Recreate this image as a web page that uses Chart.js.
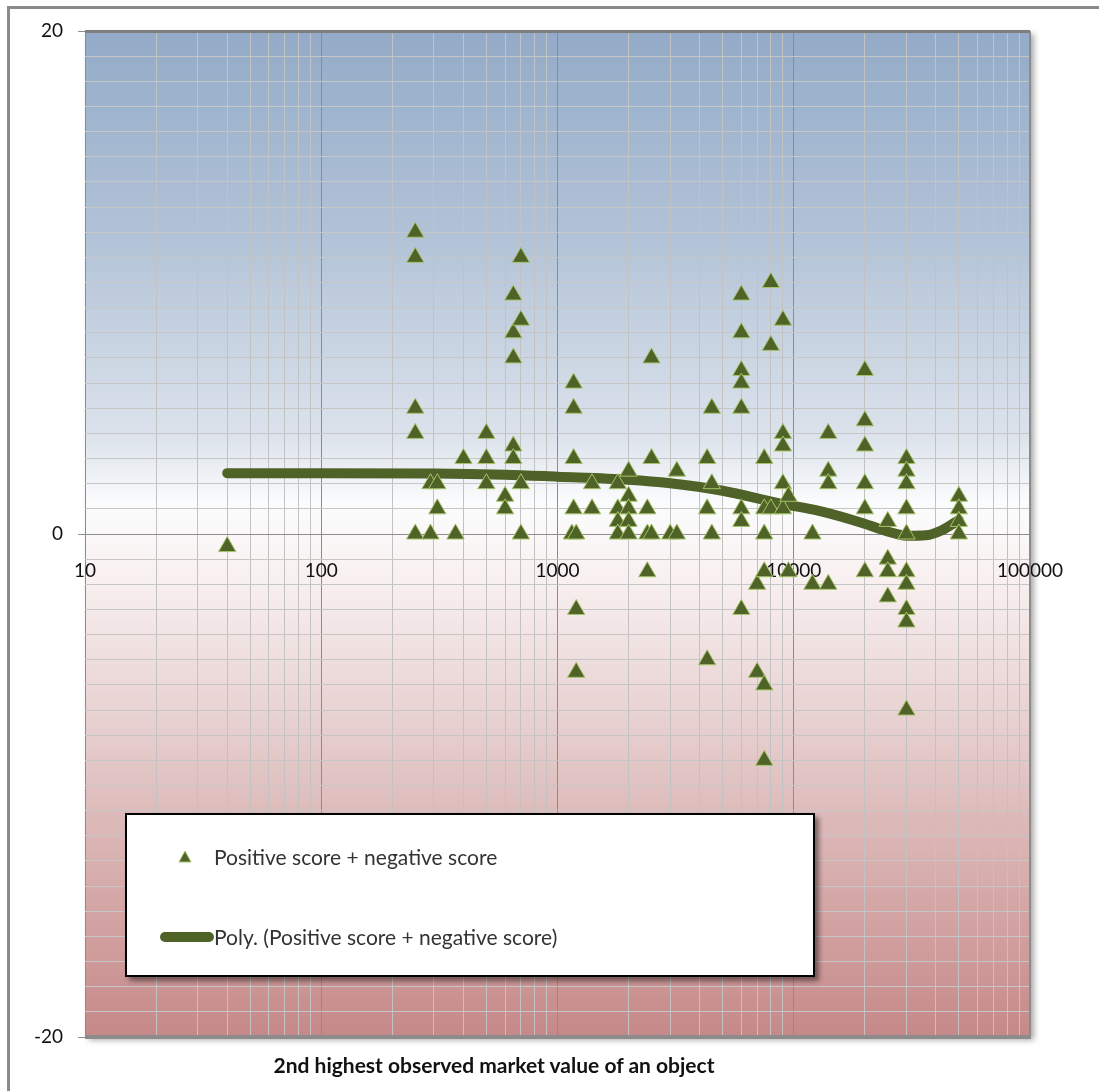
<!DOCTYPE html>
<html>
<head>
<meta charset="utf-8">
<title>Positive score + negative score</title>
<script src="https://cdn.jsdelivr.net/npm/chart.js@4/dist/chart.umd.min.js"></script>
<style>
    html, body { margin: 0; padding: 0; background: #fff; overflow: hidden; }
    #frame {
        position: absolute; left: 7px; top: 6px; width: 1200px; height: 1200px;
        border-left: 3px solid #8a8a8a; border-top: 3px solid #8a8a8a;
    }
    #wrap { position: absolute; left: 0; top: 0; width: 1099px; height: 1091px; }
    #legend {
        position: absolute; left: 125px; top: 813px; width: 686px; height: 160px;
        border: 2px solid #000; background: #fff;
        box-shadow: 4px 4px 5px rgba(0, 0, 0, 0.45);
        font-family: Lato, "Open Sans", sans-serif; font-size: 21px; color: #333;
    }
    .legend-row { position: absolute; left: 0; height: 30px; line-height: 30px; }
    .legend-text { position: absolute; left: 87px; white-space: nowrap; }
    #icon-tri { position: absolute; left: 51px; top: 8px; }
    #icon-line {
        position: absolute; left: 33px; top: 10px; width: 54px; height: 10px;
        border-radius: 5px; background: #4f6228;
    }
    #xtitle {
        position: absolute; left: 258px; top: 1052px; width: 472px; text-align: center;
        font-family: Lato, "Open Sans", sans-serif; font-weight: bold; font-size: 21px; color: #111;
        white-space: nowrap;
    }
</style>
</head>
<body>
<div id="frame"></div>
<div id="wrap"><canvas id="scoreChart"></canvas></div>
<div id="legend">
    <div class="legend-row" style="top: 27px; width: 600px;">
        <svg id="icon-tri" width="14" height="13"><polygon points="7,1 13,12 1,12" fill="#4f6228" stroke="#a6c46a" stroke-width="1"/></svg>
        <span class="legend-text">Positive score + negative score</span>
    </div>
    <div class="legend-row" style="top: 107px; width: 650px;">
        <div id="icon-line"></div>
        <span class="legend-text">Poly. (Positive score + negative score)</span>
    </div>
</div>
<div id="xtitle">2nd highest observed market value of an object</div>

<script>
// observed points: market value (x) and combined score (y)
const marketValues = [
    40,
    250, 250, 250, 250, 250,
    290, 290,
    310, 310,
    370,
    400,
    500, 500, 500,
    600, 600,
    650, 650, 650, 650, 650,
    700, 700, 700, 700,
    1170, 1170, 1170, 1170, 1150,
    1200, 1200, 1200,
    1400, 1400,
    1800, 1800, 1800, 1800,
    2000, 2000, 2000, 2000, 2000,
    2400, 2400, 2400,
    2500, 2500, 2500,
    3000,
    3200, 3200,
    4300, 4300, 4300,
    4500, 4500, 4500,
    6000, 6000, 6000, 6000, 6000, 6000, 6000, 6000,
    7000, 7000,
    7500, 7500, 7500, 7500, 7500, 7500,
    8000, 8000, 8000,
    9000, 9000, 9000, 9000, 9000,
    9500, 9500,
    12000, 12000,
    14000, 14000, 14000, 14000,
    20000, 20000, 20000, 20000, 20000, 20000,
    25000, 25000, 25000, 25000,
    30000, 30000, 30000, 30000, 30000, 30000, 30000, 30000, 30000, 30000,
    50000, 50000, 50000, 50000
];
const scores = [
    -0.5,
    12, 11, 5, 4, 0,
    2, 0,
    2, 1,
    0,
    3,
    4, 3, 2,
    1.5, 1,
    9.5, 8, 7, 3.5, 3,
    11, 8.5, 2, 0,
    6, 5, 3, 1, 0,
    0, -3, -5.5,
    2, 1,
    2, 1, 0.5, 0,
    2.5, 1.5, 1, 0.5, 0,
    1, 0, -1.5,
    7, 3, 0,
    0,
    2.5, 0,
    3, 1, -5,
    5, 2, 0,
    9.5, 8, 6.5, 6, 5, 1, 0.5, -3,
    -2, -5.5,
    3, 1, 0, -1.5, -6, -9,
    10, 7.5, 1,
    8.5, 4, 3.5, 2, 1,
    1.5, -1.5,
    0, -2,
    4, 2.5, 2, -2,
    6.5, 4.5, 3.5, 2, 1, -1.5,
    0.5, -1, -1.5, -2.5,
    3, 2.5, 2, 1, 0, -1.5, -2, -3, -3.5, -7,
    1.5, 1, 0.5, 0
];

// polynomial trendline
const trendValues = [40, 100, 300, 600, 1000, 2000, 3000, 5000, 8700, 12800, 19500, 25400, 30000, 36300, 42400, 50000];
const trendScores = [2.42, 2.42, 2.41, 2.36, 2.28, 2.16, 2.02, 1.72, 1.22, 0.92, 0.44, 0.08, -0.07, -0.05, 0.15, 0.56];

// axis ticks
const xDecades = [10, 100, 1000, 10000, 100000];
const xMinorSteps = [2, 3, 4, 5, 6, 7, 8, 9];
const yLabelledTicks = [-20, 0, 20];

document.addEventListener('DOMContentLoaded', function() {
    const xTickValues = [];
    xDecades.forEach(function(d, i) {
        xTickValues.push(d);
        if (i < xDecades.length - 1) {
            xMinorSteps.forEach(function(m) { xTickValues.push(d * m); });
        }
    });

    const points = marketValues.map(function(v, i) { return { x: v, y: scores[i] }; });
    const trend = trendValues.map(function(v, i) { return { x: v, y: trendScores[i] }; });

    // gradient background, shadow and frame of the plot area
    const plotBackground = {
        id: 'plotBackground',
        beforeDraw: function(chart) {
            const a = chart.chartArea;
            const ctx = chart.ctx;
            ctx.save();
            ctx.shadowColor = 'rgba(0,0,0,0.35)';
            ctx.shadowBlur = 6;
            ctx.shadowOffsetX = 4;
            ctx.shadowOffsetY = 3;
            ctx.fillStyle = '#999';
            ctx.fillRect(a.left, a.top, a.width, a.height);
            ctx.restore();

            const g = ctx.createLinearGradient(0, a.top, 0, a.bottom);
            g.addColorStop(0, '#93abc8');
            g.addColorStop(0.2, '#b1c2d7');
            g.addColorStop(0.4, '#dbe2eb');
            g.addColorStop(0.47, '#fbfcfd');
            g.addColorStop(0.53, '#faf3f3');
            g.addColorStop(0.7, '#e6cdcd');
            g.addColorStop(1, '#c68888');
            ctx.save();
            ctx.fillStyle = g;
            ctx.fillRect(a.left, a.top, a.width, a.height);
            ctx.restore();
        },
        beforeDatasetsDraw: function(chart) {
            const a = chart.chartArea;
            const ctx = chart.ctx;
            ctx.save();
            ctx.fillStyle = '#7f7f7f';
            ctx.fillRect(a.left, a.top - 1, a.width, 3);
            ctx.fillStyle = '#8c8c8c';
            ctx.fillRect(a.left, a.bottom - 2, a.width + 1, 4);
            ctx.fillRect(a.right - 1, a.top, 2, a.height);
            ctx.restore();
        }
    };

    const ctx = document.getElementById('scoreChart').getContext('2d');
    new Chart(ctx, {
        type: 'scatter',
        data: {
            datasets: [{
                label: 'Positive score + negative score',
                data: points,
                pointStyle: 'triangle',
                pointRadius: 10,
                backgroundColor: '#4f6228',
                borderColor: '#a6c46a',
                borderWidth: 1,
                order: 1
            }, {
                type: 'line',
                label: 'Poly. (Positive score + negative score)',
                data: trend,
                borderColor: '#4f6228',
                borderWidth: 10,
                borderCapStyle: 'round',
                pointRadius: 0,
                cubicInterpolationMode: 'monotone',
                fill: false,
                order: 2
            }]
        },
        options: {
            responsive: true,
            maintainAspectRatio: false,
            animation: false,
            layout: { padding: { top: 31, right: 69, bottom: 54, left: 0 } },
            plugins: {
                legend: { display: false },
                tooltip: { enabled: false }
            },
            scales: {
                x: {
                    type: 'logarithmic',
                    position: { y: 0 },
                    min: 10,
                    max: 100000,
                    afterBuildTicks: function(scale) {
                        scale.ticks = xTickValues.map(function(v) { return { value: v }; });
                    },
                    ticks: {
                        autoSkip: false,
                        maxRotation: 0,
                        padding: 25,
                        color: '#111',
                        font: { family: 'Lato', size: 19 },
                        callback: function(value) {
                            return xDecades.indexOf(value) >= 0 ? String(value) : '';
                        }
                    },
                    grid: {
                        drawTicks: false,
                        lineWidth: 1,
                        color: function(c) {
                            return xDecades.indexOf(c.tick.value) >= 0 ? '#8c8c8c' : '#c2c2c2';
                        }
                    },
                    border: { display: true, color: '#8c8c8c', width: 1 }
                },
                y: {
                    min: -20,
                    max: 20,
                    afterFit: function(scale) { scale.width = 85; },
                    ticks: {
                        stepSize: 1,
                        maxTicksLimit: 60,
                        autoSkip: false,
                        padding: 15,
                        color: '#111',
                        font: { family: 'Lato', size: 19 },
                        callback: function(value) {
                            return yLabelledTicks.indexOf(value) >= 0 ? String(value) : '';
                        }
                    },
                    grid: {
                        tickLength: 7,
                        lineWidth: 1,
                        color: function(c) {
                            return c.tick.value === 0 ? '#8c8c8c' : '#c6c6c6';
                        },
                        tickColor: function(c) {
                            return yLabelledTicks.indexOf(c.tick.value) >= 0 ? '#8c8c8c' : 'rgba(0,0,0,0)';
                        }
                    },
                    border: { display: false }
                }
            }
        },
        plugins: [plotBackground]
    });
});
</script>
</body>
</html>
